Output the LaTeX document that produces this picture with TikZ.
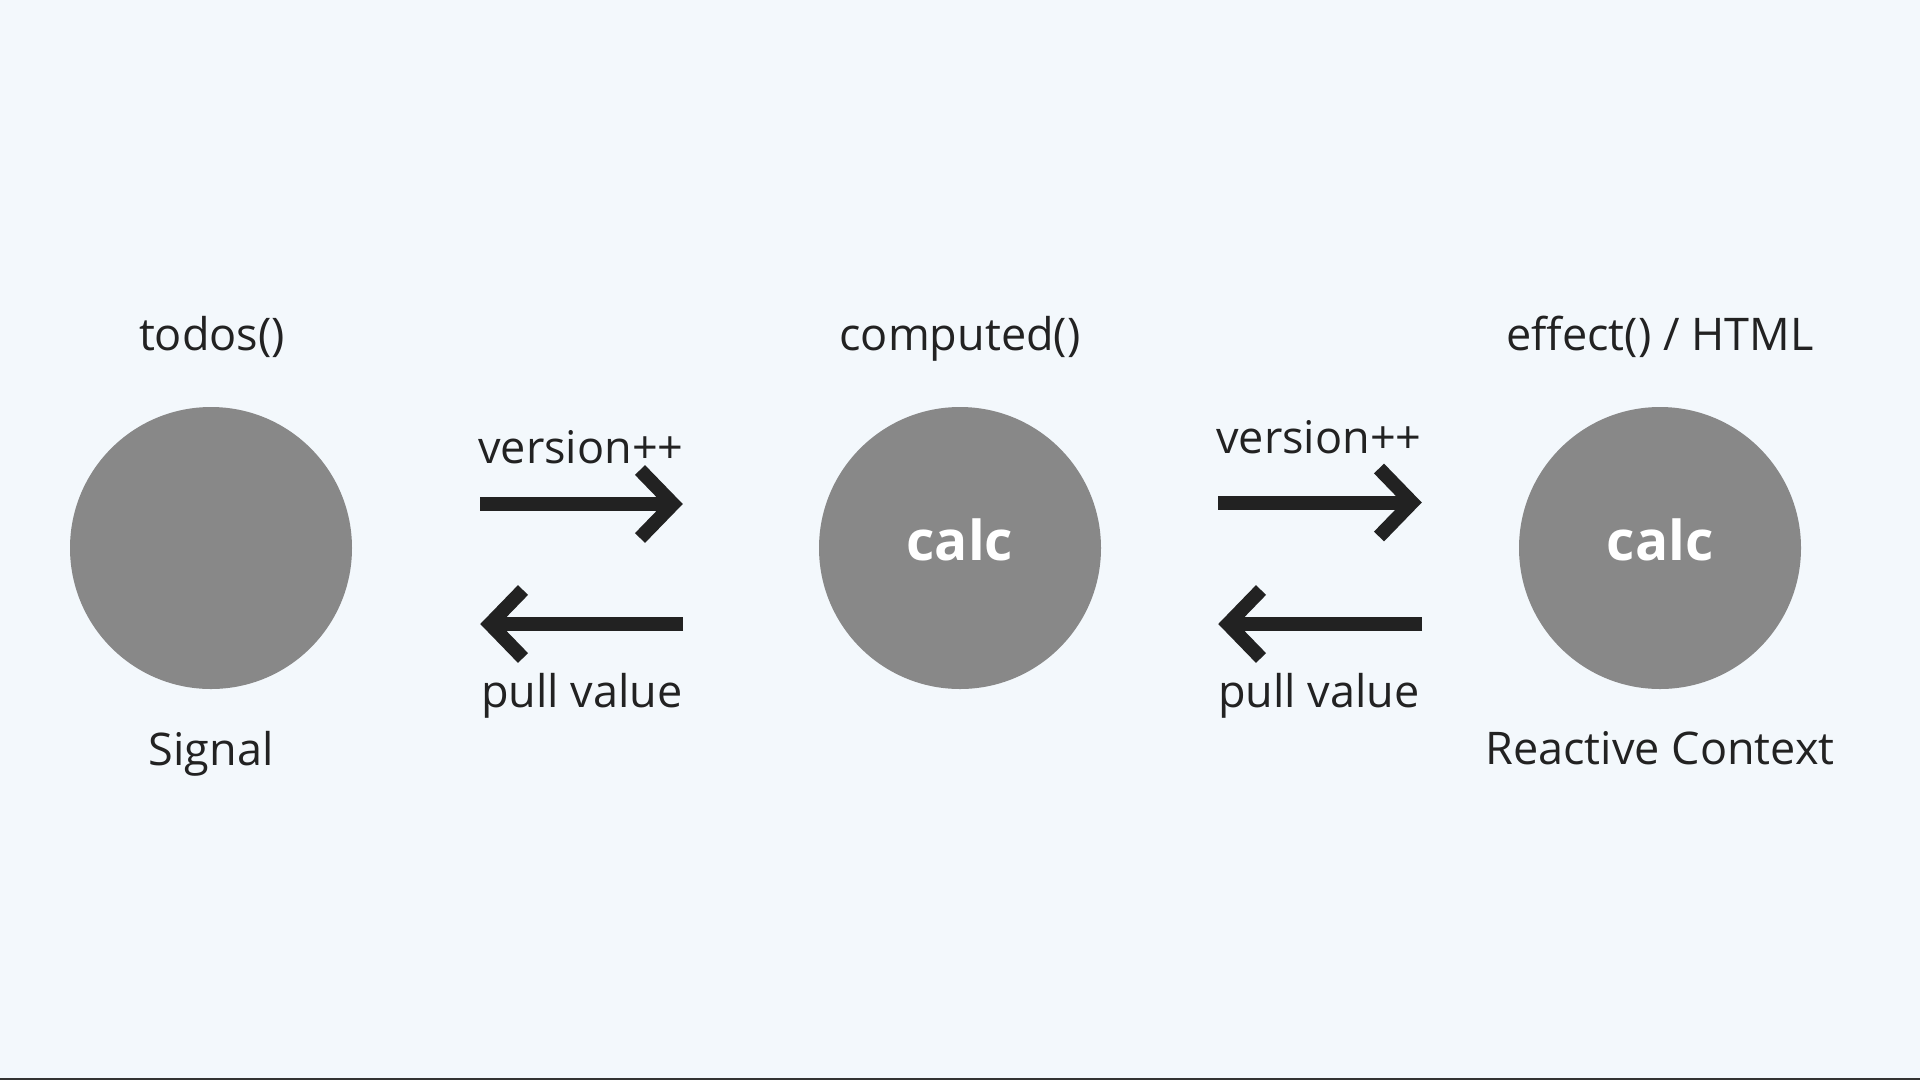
\documentclass[tikz,border=0pt]{standalone}
\usepackage{fontspec}
\setmainfont{Open Sans}
\begin{document}
\begin{tikzpicture}[x=1pt,y=-1pt,
  dot/.style={circle,fill=dotgray,draw=none,minimum size=282pt,inner sep=0pt},
  lbl/.style={anchor=base,text=ink,font=\fontsize{45}{54}\selectfont,inner sep=0pt},
  calclbl/.style={anchor=base,text=white,font=\fontsize{55}{64}\selectfont\bfseries,inner sep=0pt},
  shaft/.style={draw=ink,line width=14pt,line cap=butt},
  barb/.style={draw=ink,line width=14pt,line cap=butt,line join=miter}]
\definecolor{bgcol}{HTML}{F3F8FC}
\definecolor{dotgray}{HTML}{888888}
\definecolor{ink}{HTML}{222222}
\definecolor{edge}{HTML}{333333}
\fill[bgcol] (0,0) rectangle (1920,1080);
\useasboundingbox (0,0) rectangle (1920,1080);
\fill[edge] (0,1078) rectangle (1920,1080);
% circles
\node[dot] (sig) at (211,548) {};
\node[dot] (comp) at (960,548) {};
\node[dot] (eff) at (1660,548) {};
\node[calclbl] (c1) at (960,560) {calc};
\node[calclbl] (c2) at (1660,560) {calc};
% titles
\node[lbl] (t1) at (212,350) {todos()};
\node[lbl] (t2) at (960,350) {computed()};
\node[lbl] (t3) at (1660,350) {effect() / HTML};
\node[lbl] (b1) at (211,765) {Signal};
\node[lbl] (b3) at (1660,764) {Reactive Context};
% arrow labels
\node[lbl] (v1) at (581,463) {version++};
\node[lbl] (v2) at (1319,453) {version++};
\node[lbl] (p1) at (582,707) {pull value};
\node[lbl] (p2) at (1319,707) {pull value};
% arrow coordinates
\coordinate (a1s) at (480,504); \coordinate (a1e) at (673,504);
\coordinate (a2s) at (683,624); \coordinate (a2e) at (490,624);
\coordinate (a3s) at (1218,502.5); \coordinate (a3e) at (1412,502.5);
\coordinate (a4s) at (1422,624); \coordinate (a4e) at (1228,624);
\draw[shaft] (a1s) -- (a1e);
\draw[barb] ([shift={(-33,-34)}]a1e) -- (a1e) -- ([shift={(-33,34)}]a1e);
\draw[shaft] (a2s) -- (a2e);
\draw[barb] ([shift={(33,-34)}]a2e) -- (a2e) -- ([shift={(33,34)}]a2e);
\draw[shaft] (a3s) -- (a3e);
\draw[barb] ([shift={(-33,-34)}]a3e) -- (a3e) -- ([shift={(-33,34)}]a3e);
\draw[shaft] (a4s) -- (a4e);
\draw[barb] ([shift={(33,-34)}]a4e) -- (a4e) -- ([shift={(33,34)}]a4e);
\end{tikzpicture}
\end{document}
